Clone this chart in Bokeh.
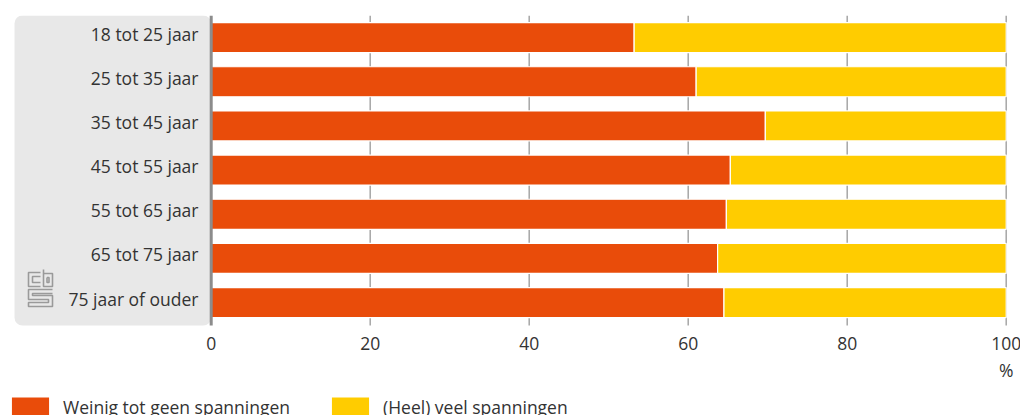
from bokeh.plotting import figure
from bokeh.models import Range1d, Legend, LegendItem, ColumnDataSource
from bokeh.core.properties import value
from bokeh.embed import file_html
from bokeh.resources import INLINE

# ---- data ----
categories = ["18 tot 25 jaar", "25 tot 35 jaar", "35 tot 45 jaar", "45 tot 55 jaar",
              "55 tot 65 jaar", "65 tot 75 jaar", "75 jaar of ouder"]
weinig = [53.2, 61.0, 69.7, 65.3, 64.8, 63.7, 64.5]
veel = [46.8, 39.0, 30.3, 34.7, 35.2, 36.3, 35.5]
series_names = ["Weinig tot geen spanningen", "(Heel) veel spanningen"]
x_ticks = [0, 20, 40, 60, 80, 100]
unit_label = "%"

# ---- style / layout ----
FONT = "Open Sans"
FS = "17.5px"
RED = "#e94c0a"
YELLOW = "#ffcc00"
TEXT = "#333333"
PANEL = "#e8e8e8"
PX_PER_X = 7.95      # pixels per percent
X0_PX = 210.7        # pixel of value 0
ROW_PX = 44.17       # pixels per category row
TOP_PX = 15          # top of plotting frame
W, H = 1020, 415


def ypos(img_y):
    """vertical position (row units) for a pixel row of the picture"""
    return -0.5 + (img_y - TOP_PX) / ROW_PX


def xpos(img_x):
    return (img_x - X0_PX) / PX_PER_X


n = len(categories)
rows = list(range(n))
right_veel = [w + v for w, v in zip(weinig, veel)]
bottom_edge = n - 0.5 + 0.02

src = ColumnDataSource(dict(y=rows, cat=categories, w0=[0] * n, w1=weinig,
                            v0=weinig, v1=right_veel))

p = figure(width=W, height=H, output_backend="svg", toolbar_location=None,
           x_range=Range1d(xpos(0), xpos(W)),
           y_range=Range1d(ypos(H), ypos(TOP_PX)),
           min_border_left=0, min_border_right=0, min_border_top=TOP_PX, min_border_bottom=0)
p.outline_line_color = None
p.background_fill_color = "white"
p.border_fill_color = "white"
p.xaxis.visible = False
p.yaxis.visible = False
p.xgrid.visible = False
p.ygrid.visible = False

# grey label panel
p.quad(left=[xpos(14)], right=[0], top=[-0.5], bottom=[bottom_edge], fill_color=PANEL,
       line_color=None, border_radius=8)

# vertical grid lines (behind bars)
grid_x = x_ticks[1:]
p.segment(x0=grid_x, x1=grid_x, y0=[-0.5] * len(grid_x), y1=[bottom_edge] * len(grid_x),
          line_color="#a6a6a6", line_width=1.5)

r_w = p.hbar(y="y", left="w0", right="w1", height=0.68, source=src,
             fill_color=RED, line_color="white", line_width=1.2)
r_v = p.hbar(y="y", left="v0", right="v1", height=0.68, source=src,
             fill_color=YELLOW, line_color="white", line_width=1.2)

# axis line at 0
p.segment(x0=[0], x1=[0], y0=[-0.5], y1=[bottom_edge], line_color="#8c8c8c", line_width=3)

# category labels
p.text(x=xpos(198), y="y", text="cat", source=src, text_align="right", text_baseline="middle",
       y_offset=-4, text_font=value(FONT), text_font_size=FS, text_color=TEXT)

# x tick labels
p.text(x=x_ticks, y=[ypos(345)] * len(x_ticks), text=[str(t) for t in x_ticks],
       text_align="center", text_baseline="middle", y_offset=-2,
       text_font=value(FONT), text_font_size=FS, text_color=TEXT)
# unit
p.text(x=[x_ticks[-1]], y=[ypos(371)], text=[unit_label],
       text_align="center", text_baseline="middle", y_offset=-2,
       text_font=value(FONT), text_font_size=FS, text_color=TEXT)

# CBS logo (decorative)
logo = [
    [(40, 272), (28, 272), (28, 286), (40, 286)],
    [(40, 276), (32, 276), (32, 282), (40, 282)],
    [(43, 269), (43, 286), (52, 286), (52, 273), (43, 273)],
    [(46.5, 277), (48.5, 277), (48.5, 282), (46.5, 282), (46.5, 277)],
    [(52, 289), (28, 289), (28, 299), (48, 299), (48, 302), (28, 302), (28, 306), (52, 306),
     (52, 295), (32, 295), (32, 293), (52, 293)],
]
p.multi_line(xs=[[xpos(a) for a, b in l] for l in logo],
             ys=[[ypos(b) for a, b in l] for l in logo],
             line_color="#9a9a9a", line_width=1.6)

legend = Legend(items=[LegendItem(label=series_names[0], renderers=[r_w]),
                       LegendItem(label=series_names[1], renderers=[r_v])],
                orientation="horizontal", location=(6, -4),
                glyph_width=48, glyph_height=25, label_height=25, label_standoff=9,
                spacing=36, padding=0, margin=0, border_line_color=None,
                background_fill_alpha=0,
                label_text_font=FONT, label_text_font_size=FS, label_text_color=TEXT)
p.add_layout(legend, "center")

open("out.html", "w").write(file_html(p, INLINE))
